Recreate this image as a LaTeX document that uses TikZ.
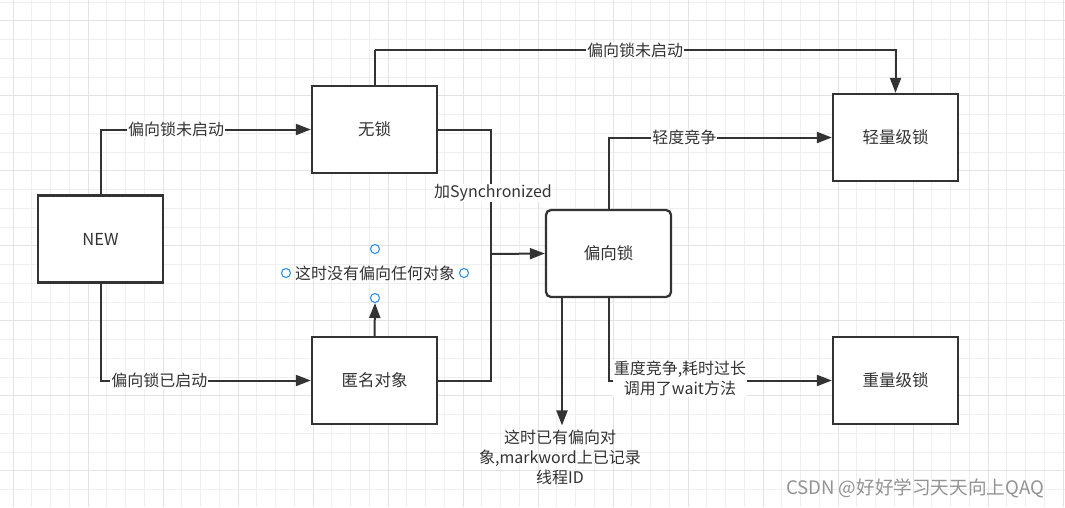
\documentclass[tikz,border=0pt]{standalone}
\usepackage{fontspec}
\setmainfont{Noto Sans CJK SC}
\usetikzlibrary{arrows.meta,calc}
\definecolor{ink}{HTML}{333333}
\definecolor{gmin}{HTML}{EFEFEF}
\definecolor{gmaj}{HTML}{E3E3E3}
\definecolor{handle}{HTML}{1E88F0}
\tikzset{
  box/.style={draw=ink, line width=2.3pt, fill=white, minimum width=125pt, minimum height=87pt, text=ink, font=\fontsize{16.5}{20}\selectfont},
  conn/.style={draw=ink, line width=2pt, -{Triangle[length=15pt,width=11pt]}},
  plain/.style={draw=ink, line width=2pt},
  lbl/.style={fill=white, text=ink, inner sep=1pt, align=center, font=\fontsize{16}{20}\selectfont},
  txt/.style={text=ink, inner sep=1pt, align=center, font=\fontsize{16}{20}\selectfont},
  hnd/.style={draw=handle, line width=1pt, fill=white},
}
\begin{document}
\begin{tikzpicture}[x=1pt,y=-1pt]
\useasboundingbox (0,0) rectangle (1065,507);
\fill[white] (0,0) rectangle (1065,507);
% grid
\foreach \i in {0,...,56} \draw[gmin, line width=1pt] ({13+18.75*\i},0) -- ({13+18.75*\i},507);
\foreach \j in {0,...,27} \draw[gmin, line width=1pt] (0,{2+18.75*\j}) -- (1065,{2+18.75*\j});
\foreach \i in {0,...,14} \draw[gmaj, line width=1pt] ({13+75*\i},0) -- ({13+75*\i},507);
\foreach \j in {0,...,6} \draw[gmaj, line width=1pt] (0,{20.75+75*\j}) -- (1065,{20.75+75*\j});

% nodes
\node[box] (new) at (100.5,239) {NEW};
\node[box] (wusuo) at (374.5,129.5) {无锁};
\node[box] (niming) at (374.5,380.5) {匿名对象};
\node[box, rounded corners=5pt] (pxs) at (608.5,253.5) {偏向锁};
\node[box] (qing) at (895.5,137.5) {轻量级锁};
\node[box] (zhong) at (895.5,380.5) {重量级锁};
\node[txt] (note) at (375,273) {这时没有偏向任何对象};
\node[txt] (note2) at (560,457) {这时已有偏向对\\象,markword上已记录\\线程ID};
\node[text=gray!85, font=\fontsize{18.6}{21}\selectfont] (wm) at (915,488) {CSDN @好好学习天天向上QAQ};

% handles
\draw[hnd] ($(note)+(0,-24)$) circle (4.5);
\draw[hnd] ($(note)+(0,25)$) circle (4.5);
\draw[hnd] ($(note)+(-89,0)$) circle (4.5);
\draw[hnd] ($(note)+(89,0)$) circle (4.5);

% connectors
\coordinate (c1) at (374.5,50);
\coordinate (j) at (491,254);
\draw[conn] (new.north) |- node[lbl, pos=0.68] {偏向锁未启动} (wusuo.west);
\draw[conn] (new.south) |- node[lbl, pos=0.64] {偏向锁已启动} (niming.west);
\draw[plain] (wusuo.north) -- (c1);
\draw[conn] (c1) -| node[lbl, pos=0.25] {偏向锁未启动} (qing.north);
\draw[plain] (wusuo.east) -| node[lbl, pos=0.755, xshift=2pt] {加Synchronized} (j);
\draw[plain] (niming.east) -| (j);
\draw[conn] (j) -- (pxs.west);
\draw[conn] (niming.north) -- ($(note)+(0,30)$);
\draw[conn] (pxs.north) |- node[lbl, pos=0.67] {轻度竞争} (qing.west);
\draw[conn] (pxs.south) |- node[lbl, pos=0.66, yshift=2pt] {重度竞争,耗时过长\\调用了wait方法} (zhong.west);
\draw[conn] ([xshift=-46.5pt]pxs.south) -- ([xshift=-46.5pt,yshift=3pt]pxs.south |- note2.north);
\end{tikzpicture}
\end{document}
